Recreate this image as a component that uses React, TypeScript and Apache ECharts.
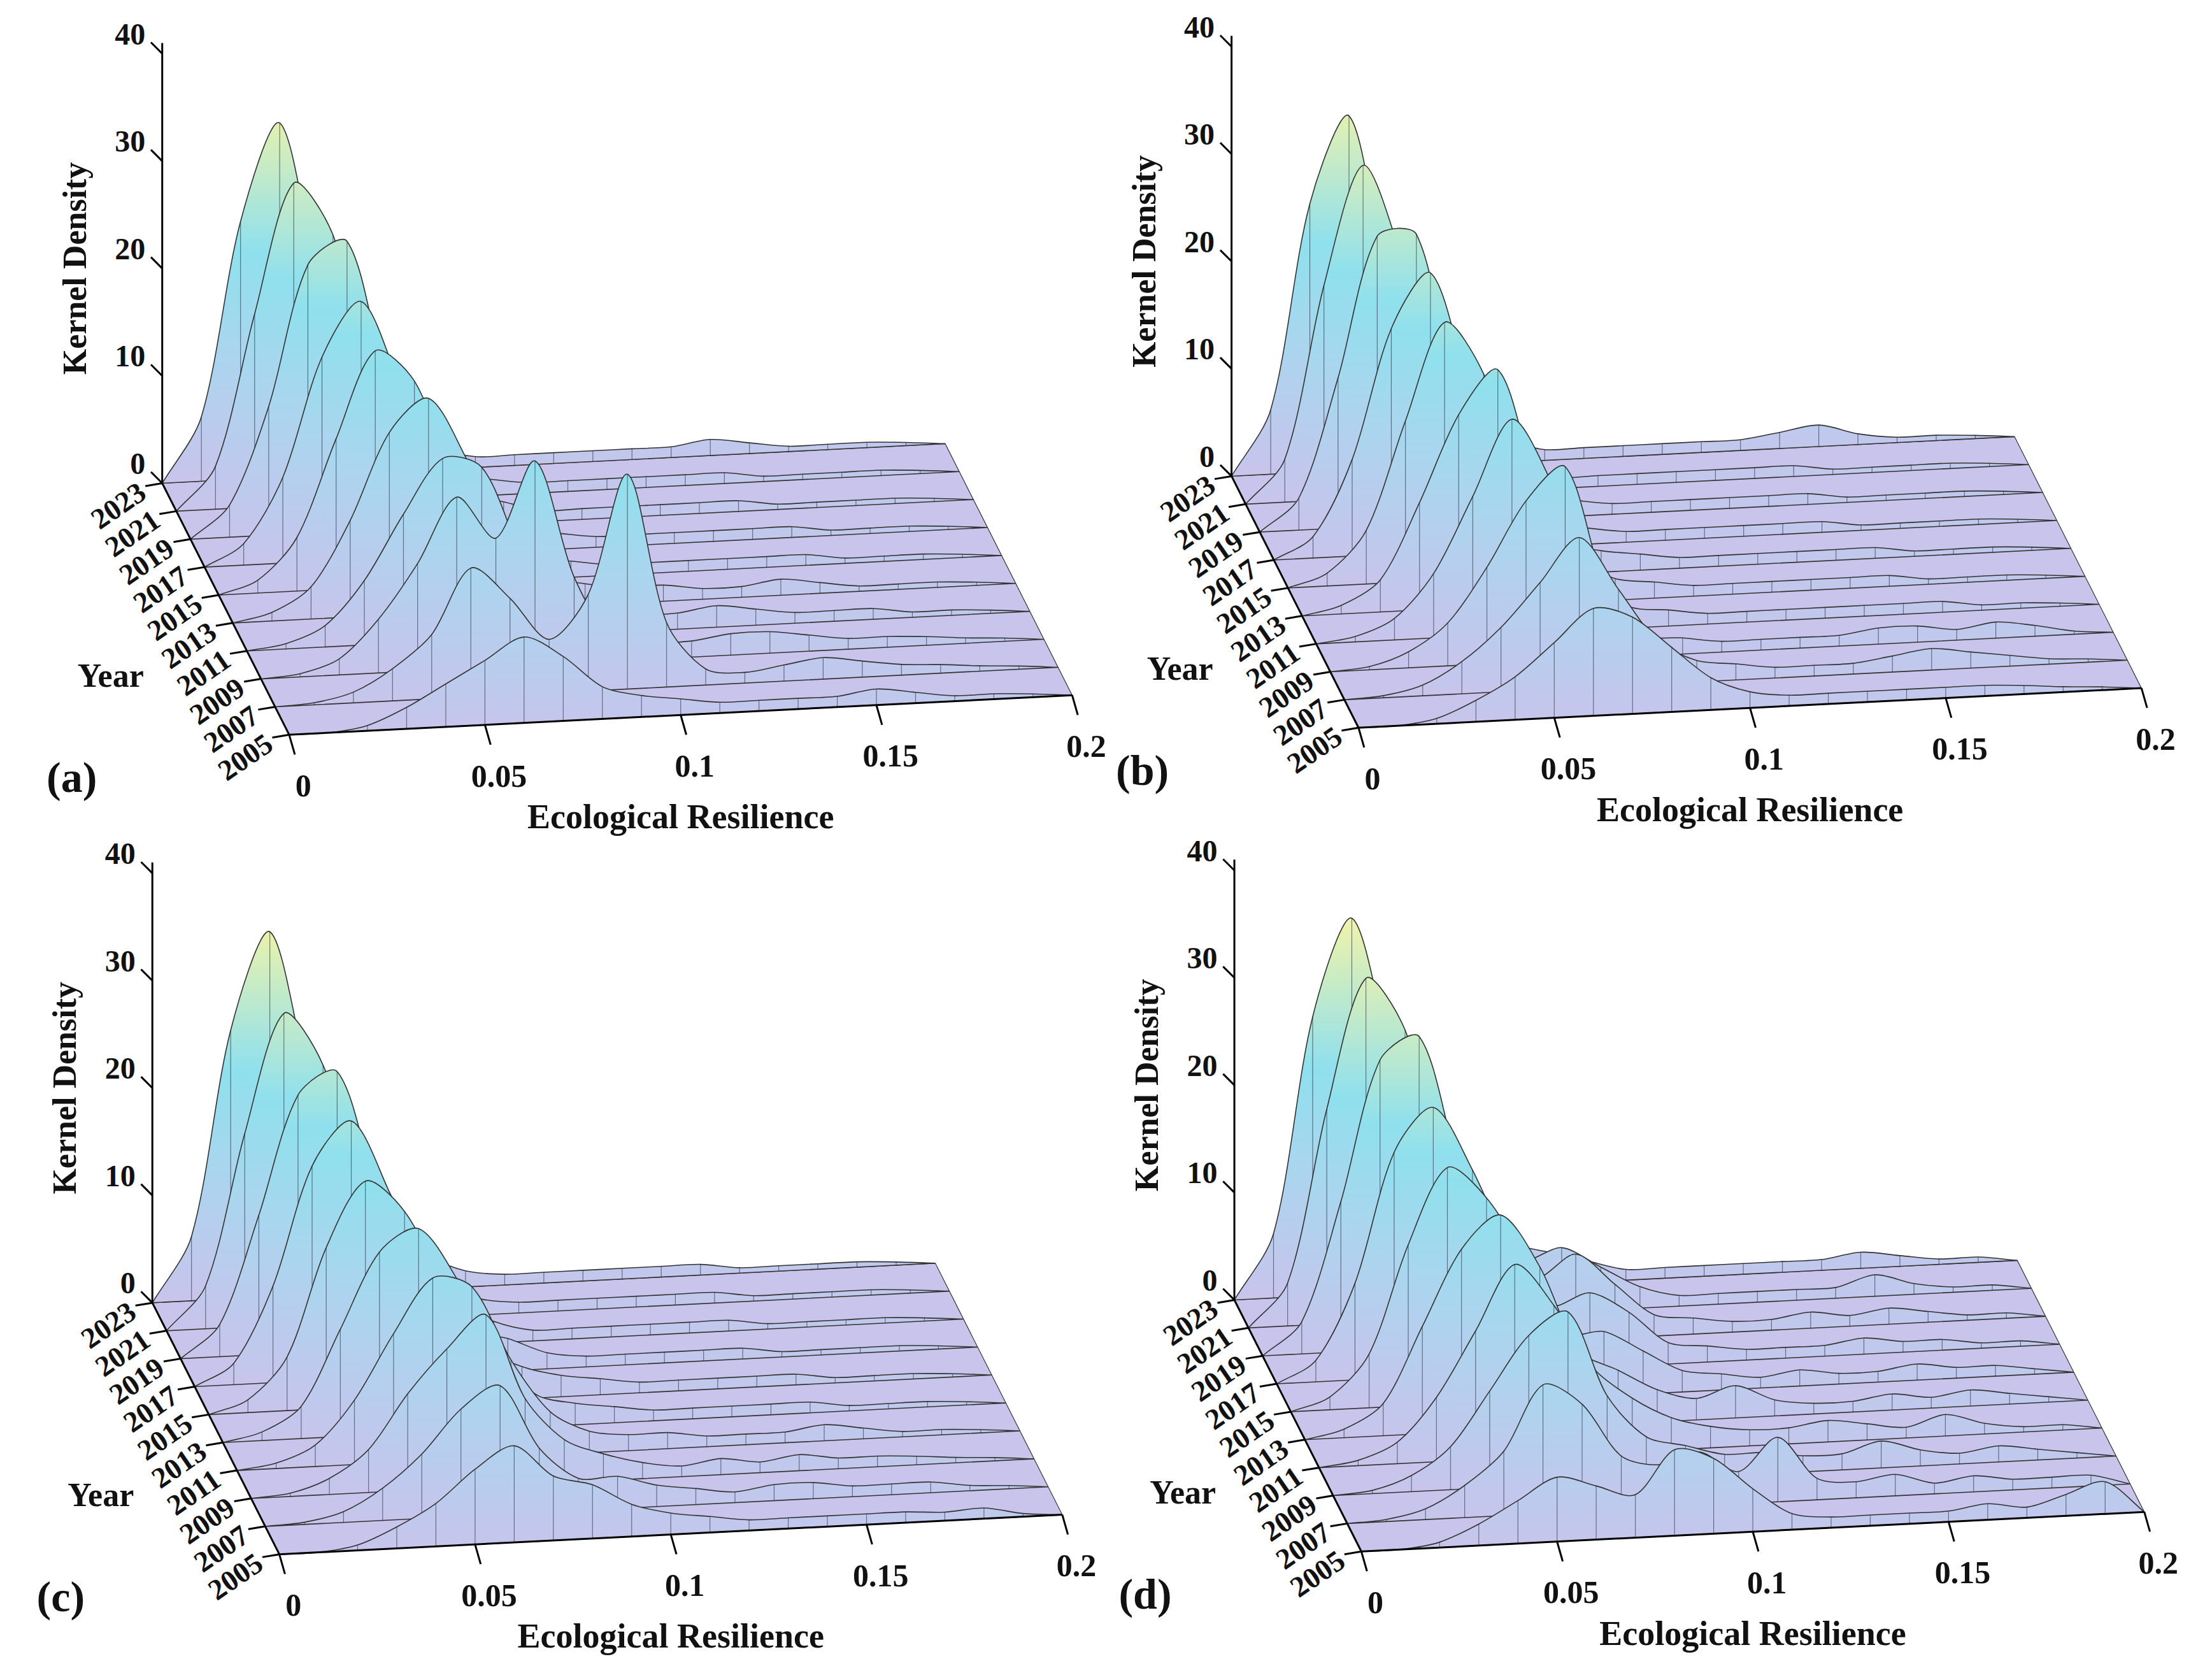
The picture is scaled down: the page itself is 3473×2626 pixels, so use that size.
import { useEffect, useRef } from "react";
import * as echarts from "echarts";

// Years shown as ridges (front 2005 → back 2023)
const years = [2005, 2007, 2009, 2011, 2013, 2015, 2017, 2019, 2021, 2023];
const yearTicks = ["2005", "2007", "2009", "2011", "2013", "2015", "2017", "2019", "2021", "2023"];
// Ecological resilience sample points
const xs = [0, 0.01, 0.02, 0.03, 0.04, 0.05, 0.06, 0.07, 0.08, 0.09, 0.1, 0.11, 0.12, 0.13, 0.14, 0.15, 0.16, 0.17, 0.18, 0.19, 0.2];
const xTicks = [0, 0.05, 0.1, 0.15, 0.2];
const zTicks = [0, 10, 20, 30, 40];

// kernel density per year (rows follow `years`)
const densityA = [
  [0, 0, 0.5, 2, 4, 6, 8, 6, 3, 2, 1.5, 1, 1, 1, 1, 1.5, 1, 0.5, 0.5, 0.3, 0],
  [0, 0.2, 1, 3, 6, 12, 9, 5, 9, 20, 6, 1.5, 1, 1.5, 2, 1.5, 1, 0.8, 0.5, 0.3, 0],
  [0, 0.3, 1.5, 5, 10, 16, 12, 19, 8, 2, 1.5, 1.5, 2, 2, 1.5, 1, 1, 0.8, 0.5, 0.3, 0],
  [0, 0.5, 2, 6, 12, 17, 16, 8, 3, 2, 1.5, 1.5, 2, 1.5, 1, 1, 1, 0.5, 0.5, 0.3, 0],
  [0, 0.8, 3, 9, 17, 20, 14, 7, 3, 2, 1.5, 1.5, 1, 1, 1.5, 1, 0.5, 0.5, 0.5, 0.3, 0],
  [0, 1.2, 5, 14, 22, 19, 10, 5, 2, 1.5, 1, 1, 1, 1, 1, 1, 0.5, 0.5, 0.5, 0.3, 0],
  [0, 2, 8, 19, 24, 16, 8, 3, 2, 1.5, 1, 1, 1, 1, 1, 1, 0.5, 0.5, 0.5, 0.3, 0],
  [0, 3, 12, 25, 27, 14, 6, 3, 2, 1, 1, 1, 1, 1, 1, 0.5, 0.5, 0.5, 0.5, 0.3, 0],
  [0, 4, 18, 30, 25, 11, 5, 2, 1.5, 1, 1, 1, 1, 1, 1, 0.5, 0.5, 0.5, 0.5, 0.3, 0],
  [0, 6, 24, 33, 18, 8, 4, 2, 1, 1, 1, 1, 1, 1, 1.5, 1, 0.5, 0.5, 0.5, 0.3, 0],
];
const densityB = [
  [0, 0, 0.5, 2, 4, 7, 10, 9, 6, 3, 1.5, 1, 1, 1, 1, 1, 1, 0.8, 0.5, 0.3, 0],
  [0, 0.2, 1, 3, 6, 10, 14, 9, 4, 2, 1.5, 1, 1, 1, 1.5, 2, 1.5, 1, 0.5, 0.3, 0],
  [0, 0.3, 1.5, 4, 9, 15, 18, 7, 2, 1.5, 1, 1, 1, 1, 1.5, 1.5, 1, 1.5, 1, 0.3, 0],
  [0, 0.5, 2, 6, 13, 20, 14, 5, 2, 1.5, 1, 1, 1, 1, 1, 1, 1, 0.5, 0.5, 0.3, 0],
  [0, 0.8, 3, 10, 18, 22, 11, 4, 2, 1.5, 1, 1, 1, 1, 1, 1, 0.5, 0.5, 0.5, 0.3, 0],
  [0, 1.2, 5, 15, 24, 19, 8, 3, 2, 1.5, 1, 1, 1, 1, 1, 1, 0.5, 0.5, 0.5, 0.3, 0],
  [0, 2, 9, 21, 26, 15, 6, 2, 1.5, 1, 1, 1, 1, 1, 1, 0.5, 0.5, 0.5, 0.5, 0.3, 0],
  [0, 3, 14, 27, 27, 12, 5, 2, 1.5, 1, 1, 1, 1, 1, 1, 0.5, 0.5, 0.5, 0.5, 0.3, 0],
  [0, 4, 20, 31, 22, 9, 4, 2, 1, 1, 1, 1, 1, 1, 1, 0.5, 0.5, 0.5, 0.5, 0.3, 0],
  [0, 6, 25, 33, 17, 7, 3, 2, 1, 1, 1, 1, 1, 1, 1.5, 2, 1, 0.5, 0.5, 0.3, 0],
];
const densityC = [
  [0, 0, 0.5, 2, 4, 7, 9, 6, 5, 3, 2, 1.5, 1, 1, 1, 1, 1, 0.8, 1, 0.3, 0],
  [0, 0.2, 1, 3, 6, 10, 12, 6, 3, 3, 2, 1.5, 1, 1.5, 1.5, 1, 1, 1, 0.5, 0.3, 0],
  [0, 0.3, 1.5, 4, 9, 13, 16, 8, 4, 2.5, 1.5, 1, 1.5, 1, 1.5, 1, 1, 0.8, 0.5, 0.3, 0],
  [0, 0.5, 2, 6, 12, 17, 16, 9, 4, 2, 1.5, 1.5, 1, 1, 1, 1.5, 1, 0.5, 0.5, 0.3, 0],
  [0, 0.8, 3, 10, 17, 19, 14, 7, 3, 2, 1.5, 1, 1, 1, 1, 1, 0.5, 0.5, 0.5, 0.3, 0],
  [0, 1.2, 5, 15, 21, 18, 11, 5, 3, 2, 1.5, 1, 1, 1, 1, 1, 0.5, 0.5, 0.5, 0.3, 0],
  [0, 2, 9, 20, 24, 17, 9, 4, 3, 1.5, 1, 1, 1, 1, 1, 0.5, 0.5, 0.5, 0.5, 0.3, 0],
  [0, 3, 13, 24, 26, 15, 7, 4, 2, 1, 1, 1, 1, 1, 1, 0.5, 0.5, 0.5, 0.5, 0.3, 0],
  [0, 4, 18, 29, 24, 12, 6, 3, 1.5, 1, 1, 1, 1, 1, 1, 0.5, 0.5, 0.5, 0.5, 0.3, 0],
  [0, 6, 25, 34, 20, 9, 5, 3, 1.5, 1, 1, 1, 1, 1, 1, 0.5, 0.5, 0.5, 0.5, 0.3, 0],
];
const densityD = [
  [0, 0, 0.5, 2, 4, 6, 5, 4, 8, 7, 4, 1.5, 1, 1, 1, 1, 1.5, 1, 2, 3, 0],
  [0, 0.2, 1, 3, 6, 12, 10, 5, 4, 5, 3, 6, 2, 1.5, 2, 1, 1.5, 1, 1, 1, 0],
  [0, 0.3, 1.5, 4, 9, 14, 16, 8, 4, 3, 2, 2, 1.5, 1.5, 2.5, 1.5, 1, 1.5, 1, 0.5, 0],
  [0, 0.5, 2, 6, 12, 18, 14, 8, 5, 3, 2, 1.5, 1.5, 2, 1.5, 1, 2, 1, 0.5, 0.5, 0],
  [0, 0.8, 3, 10, 17, 20, 15, 7, 5, 3, 2, 3, 1.5, 1, 1, 1.5, 1, 1.5, 1, 0.5, 0],
  [0, 1.2, 5, 15, 22, 19, 13, 6, 6, 4, 2, 1.5, 1, 1.5, 1, 1, 1.5, 1, 1, 0.5, 0],
  [0, 2, 9, 21, 25, 19, 11, 6, 7, 5, 2, 1.5, 1, 1, 1, 1.5, 1, 1, 0.5, 0.5, 0],
  [0, 3, 14, 27, 29, 17, 9, 6, 8, 5, 2, 1.5, 1, 1, 1.5, 1, 1.5, 1, 0.5, 0.5, 0],
  [0, 4, 20, 32, 27, 14, 8, 5, 6, 4, 2, 1, 1, 1, 1, 1, 2, 1, 0.5, 0.5, 0],
  [0, 6, 26, 35, 22, 11, 6, 4, 3, 2, 1, 1, 1, 1, 1, 1, 1.5, 1, 0.5, 0.5, 0],
];

const panels = [
  { label: "(a)", data: densityA, ox: 205, oy: 520 },
  { label: "(b)", data: densityB, ox: 963, oy: 515 },
  { label: "(c)", data: densityC, ox: 198, oy: 1100 },
  { label: "(d)", data: densityD, ox: 965, oy: 1098 },
];

const W = 1568, H = 1184;       // reference-pixel space of the grid axes
const VX = [555, -28];          // x axis 0 → 0.2
const VY = [-90, -178];         // year axis 2005 → 2023
const ZS = 7.6;                 // px per density unit
const FONT = "Liberation Serif";
const LAV = "#c9c4ec";

const App = () => {
  const ref = useRef<HTMLDivElement>(null);

  useEffect(() => {
    document.body.style.margin = "0";
    const chart = echarts.init(ref.current!, null, { renderer: "svg" });

    const proj = (p: any, x: number, t: number, z: number) => [
      p.ox + (x / 0.2) * VX[0] + t * VY[0],
      p.oy + (x / 0.2) * VX[1] + t * VY[1] - z * ZS,
    ];

    // lavender floor under the ridges
    const floorSeries = {
      type: "custom",
      coordinateSystem: "cartesian2d",
      silent: true,
      data: panels.map((_, i) => [i]),
      renderItem: (params: any, api: any) => {
        const p = panels[api.value(0)];
        const c = (x: number, t: number) => api.coord(proj(p, x, t, 0));
        return {
          type: "polygon",
          shape: { points: [c(0, 0), c(0.2, 0), c(0.2, 1), c(0, 1)] },
          style: { fill: LAV, stroke: "#333", lineWidth: 1.2 },
        };
      },
    };

    const ridgeSeries = panels.map((p) => ({
      type: "custom",
      coordinateSystem: "cartesian2d",
      silent: true,
      data: years.map((_, j) => [years.length - 1 - j]),
      renderItem: (params: any, api: any) => {
        const j = api.value(0);
        const t = j / (years.length - 1);
        const row = p.data[j];
        const c = (x: number, z: number) => api.coord(proj(p, x, t, z));
        const top = xs.map((x, i) => c(x, row[i]));
        const base0 = c(0, 0);
        const baseTop = c(0, 36);
        const fill = new echarts.graphic.LinearGradient(0, base0[1], 0, baseTop[1], [
          { offset: 0, color: LAV },
          { offset: 0.35, color: "#a9d6ee" },
          { offset: 0.6, color: "#8fe0ee" },
          { offset: 1, color: "#f4f4a6" },
        ], true);
        const children: any[] = [
          {
            type: "polygon",
            shape: { points: [c(0, 0), ...top, c(0.2, 0)], smooth: 0.3 },
            style: { fill, stroke: "#333", lineWidth: 1.6 },
          },
        ];
        xs.forEach((x, i) => {
          if (i === 0) return;
          const b = c(x, 0);
          children.push({
            type: "line",
            shape: { x1: top[i][0], y1: top[i][1], x2: b[0], y2: b[1] },
            style: { stroke: "rgba(30,30,50,0.55)", lineWidth: 1.2 },
          });
        });
        return { type: "group", children };
      },
    }));

    const textStyle = (size: number, bold = true) => ({
      fontFamily: FONT,
      fontSize: size,
      fontWeight: bold ? "bold" : "normal",
      fill: "#111",
    });

    const axisSeries = {
      type: "custom",
      coordinateSystem: "cartesian2d",
      silent: true,
      z: 10,
      data: panels.map((_, i) => [i]),
      renderItem: (params: any, api: any) => {
        const p = panels[api.value(0)];
        const c = (x: number, t: number, z: number) => api.coord(proj(p, x, t, z));
        const ch: any[] = [];
        const ln = (a: number[], b: number[]) =>
          ch.push({ type: "line", shape: { x1: a[0], y1: a[1], x2: b[0], y2: b[1] }, style: { stroke: "#000", lineWidth: 3 } });
        const f = 2.215;
        // x axis (front edge)
        ln(c(0, 0, 0), c(0.2, 0, 0));
        xTicks.forEach((v) => {
          const a = c(v, 0, 0);
          ln(a, [a[0] + 4 * f, a[1] + 14 * f]);
          ch.push({ type: "text", x: a[0] + 10 * f, y: a[1] + 36 * f, style: { ...textStyle(50), text: String(v), align: "center", verticalAlign: "middle" } });
        });
        // year axis (left edge)
        ln(c(0, 0, 0), c(0, 1, 0));
        yearTicks.forEach((y, j) => {
          const a = c(0, j / (yearTicks.length - 1), 0);
          ln(a, [a[0] - 12 * f, a[1] + 2 * f]);
          ch.push({ type: "text", x: a[0] - 14 * f, y: a[1] + 4 * f, rotation: 0.6, style: { ...textStyle(46), text: y, align: "right", verticalAlign: "middle" } });
        });
        // z axis
        ln(c(0, 1, 0), c(0, 1, 41));
        zTicks.forEach((v) => {
          const a = c(0, 1, v);
          ln(a, [a[0] - 8 * f, a[1] - 8 * f]);
          ch.push({ type: "text", x: a[0] - 12 * f, y: a[1] - 14 * f, style: { ...textStyle(48), text: String(v), align: "right", verticalAlign: "middle" } });
        });
        const k = c(0, 1, 20);
        ch.push({ type: "text", x: k[0] - 62 * f, y: k[1], rotation: Math.PI / 2, style: { ...textStyle(52), text: "Kernel Density", align: "center", verticalAlign: "middle" } });
        const e = c(0.1, 0, 0);
        ch.push({ type: "text", x: e[0], y: e[1] + 72 * f, style: { ...textStyle(54), text: "Ecological Resilience", align: "center", verticalAlign: "middle" } });
        const o = c(0, 0, 0);
        ch.push({ type: "text", x: o[0] - 150 * f, y: o[1] - 42 * f, style: { ...textStyle(52), text: "Year", align: "left", verticalAlign: "middle" } });
        ch.push({ type: "text", x: o[0] - 172 * f, y: o[1] + 30 * f, style: { ...textStyle(68), text: p.label, align: "left", verticalAlign: "middle" } });
        return { type: "group", children: ch };
      },
    };

    chart.setOption({
      animation: false,
      backgroundColor: "#fff",
      grid: { left: 0, right: 0, top: 0, bottom: 0 },
      xAxis: { type: "value", min: 0, max: W, show: false },
      yAxis: { type: "value", min: 0, max: H, inverse: true, show: false },
      series: [floorSeries, ...ridgeSeries, axisSeries],
    });

    return () => chart.dispose();
  }, []);

  return <div ref={ref} style={{ width: 3473, height: 2626 }} />;
};

export default App;
